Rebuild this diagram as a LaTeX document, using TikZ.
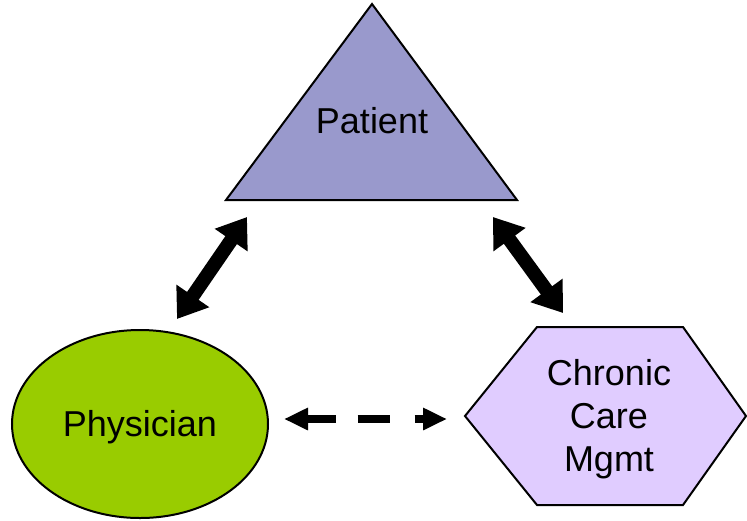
\documentclass[tikz,border=0pt]{standalone}
\usepackage{fontspec}
\setmainfont{Liberation Sans}
\usetikzlibrary{arrows.meta,shapes.geometric}
\definecolor{patientfill}{RGB}{153,153,204}
\definecolor{physfill}{RGB}{153,204,0}
\definecolor{ccmfill}{RGB}{224,204,255}
\begin{document}
\begin{tikzpicture}[x=1pt,y=-1pt,
  shapeline/.style={draw=black,line width=2pt,line join=miter},
  label/.style={font=\fontsize{36}{43}\selectfont,align=center,inner sep=0pt},
  fatarrow/.style={line width=14pt,{Triangle[length=28pt,width=38pt]}-{Triangle[length=28pt,width=38pt]}},
  dasharrow/.style={line width=8pt,dash pattern=on 29pt off 22pt on 32pt off 25pt on 20pt,
    {Triangle[length=24pt,width=21pt]}-{Triangle[length=24pt,width=21pt]}}]
\useasboundingbox (0,0) rectangle (747,520);
% Patient triangle
\filldraw[shapeline,fill=patientfill] (372,4) -- (517,200) -- (226,200) -- cycle;
\node[label] (patient) at (372,121) {Patient};
% Physician ellipse
\node[ellipse,shapeline,fill=physfill,minimum width=256pt,minimum height=188pt,label] (phys) at (140,424) {};
\node[label] (physlabel) at (140,427) {Physician};
% Chronic care management hexagon
\filldraw[shapeline,fill=ccmfill] (465,416) -- (537,327) -- (683,327) -- (746,416) -- (683,505) -- (537,505) -- cycle;
\node[label] (ccm) at (609,419) {Chronic\\Care\\Mgmt};
% connector end points
\coordinate (pl) at (247,217);
\coordinate (ph) at (177,319);
\coordinate (pr) at (493,217);
\coordinate (cc) at (563,313);
\coordinate (dl) at (284,419);
\coordinate (dr) at (447,419);
\draw[fatarrow] (ph) -- (pl);
\draw[fatarrow] (pr) -- (cc);
\draw[dasharrow] (dl) -- (dr);
\end{tikzpicture}
\end{document}
